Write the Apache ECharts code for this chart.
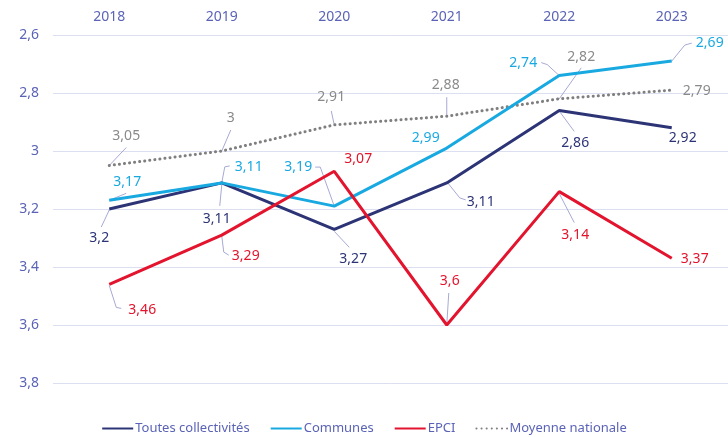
<!DOCTYPE html>
<html>
<head>
<meta charset="utf-8">
<script src="https://cdn.jsdelivr.net/npm/echarts@6/dist/echarts.min.js"></script>
<style>
html,body{margin:0;padding:0;background:#fff;}
#chart{width:728px;height:437px;}
</style>
</head>
<body>
<div id="chart"></div>
<script>
// ---- Data ----
const years = ['2018', '2019', '2020', '2021', '2022', '2023'];
const seriesNames = ['Toutes collectivités', 'Communes', 'EPCI', 'Moyenne nationale'];
const toutesCollectivites = [3.2, 3.11, 3.27, 3.11, 2.86, 2.92];
const communes = [3.17, 3.11, 3.19, 2.99, 2.74, 2.69];
const epci = [3.46, 3.29, 3.07, 3.6, 3.14, 3.37];
const moyenneNationale = [3.05, 3, 2.91, 2.88, 2.82, 2.79];
const yTicks = [2.6, 2.8, 3, 3.2, 3.4, 3.6, 3.8];

// ---- Style / label placement (offsets in px relative to each point) ----
const colors = ['#2c3476', '#19a9e1', '#e3142d', '#7f7f7f'];
const labelColors = ['#2c3476', '#19a9e1', '#e3142d', '#8a8a8a'];
const labelPlacement = [
  [ {o:[-10,29], l:[[0,1],[-8,18]]}, {o:[-5,36], l:[[0,2],[-2,23]]}, {o:[19,30], l:[[0,2],[15,18]]},
    {o:[34,19], l:[[1,0],[13,15],[19,17]]}, {o:[16,33], l:[[1,2],[15,21]]}, {o:[11,10]} ],
  [ {o:[18,-18], l:[[0,0],[17,-7]]}, {o:[27,-16], l:[[0,0],[3,-16],[8,-17]]}, {o:[-36,-39], l:[[0,0],[-14,-39],[-19,-39]]},
    {o:[-21,-10]}, {o:[-36,-13], l:[[0,0],[-12,-11],[-18,-13]]}, {o:[38,-18], l:[[0,0],[13,-16],[20,-18]]} ],
  [ {o:[33,26], l:[[0,1],[7,23],[12,24]]}, {o:[24,21], l:[[0,1],[2,17],[7,20]]}, {o:[24,-12]},
    {o:[3,-44], l:[[0,0],[2,-32]]}, {o:[16,43], l:[[0,2],[15,31]]}, {o:[23,1]} ],
  [ {o:[17,-29], l:[[0,0],[17,-18]]}, {o:[9,-33], l:[[0,0],[9,-21]]}, {o:[-3,-28], l:[[0,0],[-3,-14]]},
    {o:[-1,-31], l:[[0,0],[0,-19]]}, {o:[22,-42], l:[[0,0],[22,-31]]}, {o:[25,1]} ]
];

const FONT = 'Noto Sans';
const fmt = v => String(+Number(v).toFixed(2)).replace('.', ',');

function layoutFn(p) {
  const cfg = labelPlacement[p.seriesIndex][p.dataIndex];
  const cx = p.rect.x + p.rect.width / 2;
  const cy = p.rect.y + p.rect.height / 2;
  return { x: cx + cfg.o[0], y: cy + cfg.o[1], align: 'center', verticalAlign: 'middle' };
}

const allData = [toutesCollectivites, communes, epci, moyenneNationale];
const series = allData.map((d, i) => ({
  name: seriesNames[i],
  type: 'line',
  data: d,
  symbol: 'circle',
  symbolSize: 1,
  showSymbol: true,
  itemStyle: { color: colors[i], opacity: 0 },
  lineStyle: i === 3
    ? { color: colors[i], width: 3, type: [0.1, 5], cap: 'round' }
    : { color: colors[i], width: 3 },
  label: {
    show: true,
    formatter: p => fmt(p.value),
    color: labelColors[i],
    fontFamily: FONT,
    fontSize: 14,
    opacity: 1
  },
  labelLayout: layoutFn,
  emphasis: { disabled: true },
  z: i === 3 ? 2 : 3
}));

// leader lines: one item per labelled point that has a guide line
const leaderData = [];
allData.forEach((d, s) => d.forEach((v, i) => {
  if (labelPlacement[s][i].l) leaderData.push([i, v, s]);
}));
series.push({
  type: 'custom',
  name: 'leaders',
  data: leaderData,
  silent: true,
  z: 1,
  renderItem: function (params, api) {
    const i = api.value(0), v = api.value(1), s = api.value(2);
    const c = api.coord([i, v]);
    const pts = labelPlacement[s][i].l.map(q => [c[0] + q[0], c[1] + q[1]]);
    return {
      type: 'polyline',
      shape: { points: pts },
      style: { stroke: '#a6a9d4', lineWidth: 1, fill: null }
    };
  }
});

const chart = echarts.init(document.getElementById('chart'));
chart.setOption({
  animation: false,
  grid: { left: 53, right: -3, top: 35, bottom: 54 },
  xAxis: {
    type: 'category',
    data: years,
    position: 'top',
    boundaryGap: true,
    axisLine: { show: false },
    axisTick: { show: false },
    axisLabel: { color: '#5a63b6', fontFamily: FONT, fontSize: 14, margin: 11 }
  },
  yAxis: {
    type: 'value',
    inverse: true,
    min: yTicks[0],
    max: yTicks[yTicks.length - 1],
    interval: 0.2,
    axisLine: { show: false },
    axisTick: { show: false },
    axisLabel: { color: '#5a63b6', fontFamily: FONT, fontSize: 14, margin: 14, formatter: v => fmt(v) },
    splitLine: { lineStyle: { color: '#dcdff0', width: 1 } }
  },
  legend: {
    data: seriesNames,
    top: 417,
    left: 'center',
    itemWidth: 31,
    itemHeight: 14,
    itemGap: 20,
    textStyle: { color: '#5a63b6', fontFamily: FONT, fontSize: 13, padding: [0, 0, 0, -3] },
    selectedMode: false
  },
  series: series
});
</script>
</body>
</html>
